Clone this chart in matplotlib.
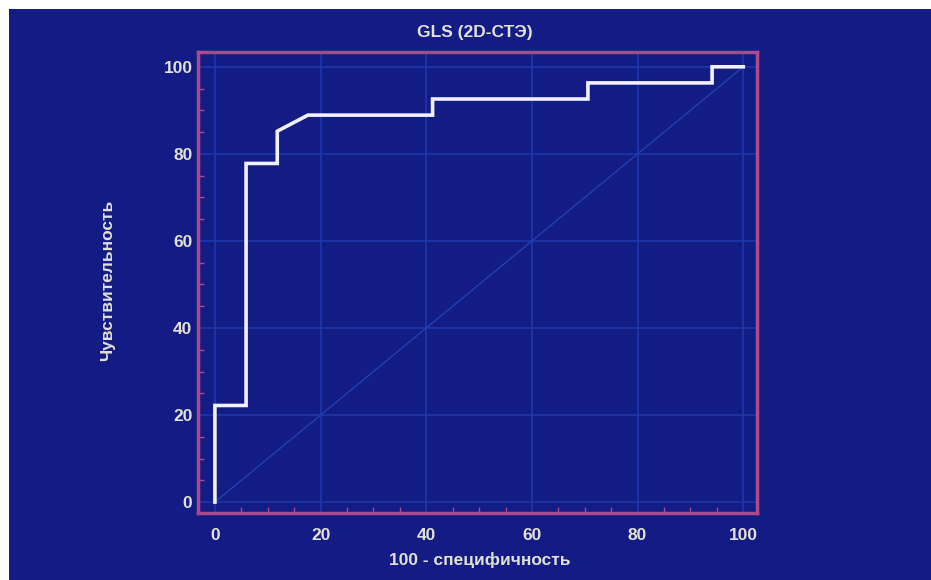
import matplotlib
matplotlib.use("Agg")
import matplotlib.pyplot as plt
from matplotlib.patches import Rectangle
from matplotlib.ticker import MultipleLocator

# ROC curve points (100 - specificity, sensitivity)
fpr = [0, 0, 5.9, 5.9, 11.8, 11.8, 17.6, 41.2, 41.2, 70.6, 70.6, 94.1, 94.1, 100]
tpr = [0, 22.2, 22.2, 77.8, 77.8, 85.2, 88.9, 88.9, 92.6, 92.6, 96.3, 96.3, 100, 100]
ticks = [0, 20, 40, 60, 80, 100]
title = "GLS (2D-СТЭ)"
xlabel = "100 - специфичность"
ylabel = "Чувствительность"

bg = "#121c84"
grid_c = "#2038b0"
diag_c = "#2440b4"
frame_c = "#ac4a8c"
txt_c = "#e4e0d4"

plt.rcParams['font.family'] = ['Liberation Sans', 'DejaVu Sans']

fig = plt.figure(figsize=(9.31, 5.8), dpi=100, facecolor=bg)
# white margin strips at top and left
fig.patches.append(Rectangle((0, 1 - 9/580), 1, 9/580, transform=fig.transFigure,
                             facecolor="white", edgecolor="none", zorder=-10))
fig.patches.append(Rectangle((0, 0), 9/931, 1, transform=fig.transFigure,
                             facecolor="white", edgecolor="none", zorder=-10))

ax = fig.add_axes([198/931, 1 - 513/580, (757 - 198)/931, (513 - 52)/580])
ax.set_facecolor(bg)
ax.set_xlim(-3.2, 102.6)
ax.set_ylim(-2.5, 103.4)

ax.set_xticks(ticks)
ax.set_yticks(ticks)
ax.xaxis.set_minor_locator(MultipleLocator(5))
ax.yaxis.set_minor_locator(MultipleLocator(5))
ax.grid(True, which="major", color=grid_c, lw=1.1)
ax.tick_params(which="both", direction="in", colors=frame_c, labelcolor=txt_c)
ax.tick_params(which="major", length=0, labelsize=12.5)
ax.tick_params(which="minor", length=4, width=1)
ax.tick_params(axis="x", pad=11)
ax.tick_params(axis="y", pad=4)
for lab in ax.get_xticklabels() + ax.get_yticklabels():
    lab.set_fontweight("bold")

for s in ax.spines.values():
    s.set_color(frame_c)
    s.set_linewidth(2.5)

ax.plot([0, 100], [0, 100], color=diag_c, lw=1.0, zorder=2)
ax.plot(fpr, tpr, color="#f2f0ff", lw=2.6, zorder=3, solid_joinstyle="miter")

fig.text(475/931, 1 - 32/580, title, ha="center", va="center", color=txt_c,
         fontsize=12.5, fontweight="bold")
fig.text(480/931, 1 - 560/580, xlabel, ha="center", va="center", color=txt_c,
         fontsize=12.5, fontweight="bold")
fig.text(108/931, 1 - 280/580, ylabel, ha="center", va="center", color=txt_c,
         fontsize=12.5, fontweight="bold", rotation=90)

fig.savefig("out.png", dpi=100, facecolor=fig.get_facecolor())
